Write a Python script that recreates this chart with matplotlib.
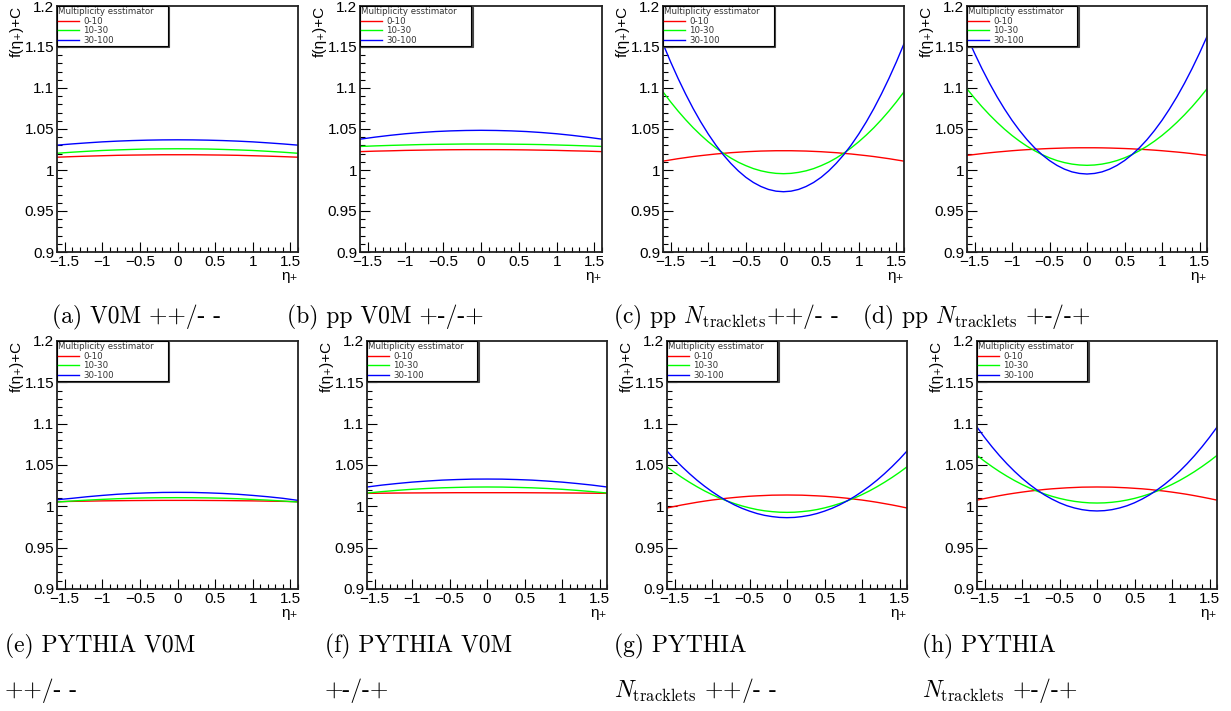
import matplotlib
matplotlib.use("Agg")
import matplotlib.pyplot as plt
from matplotlib.ticker import MultipleLocator, FuncFormatter

plt.rcParams["mathtext.fontset"] = "cm"
SANS = ["Liberation Sans", "DejaVu Sans"]

W, H = 1231, 711

# eta_+ sample points: every 0.2 for the flat panels, every 0.1 for the curved ones
ETA = [-1.6, -1.4, -1.2, -1.0, -0.8, -0.6, -0.4, -0.2, 0.0,
       0.2, 0.4, 0.6, 0.8, 1.0, 1.2, 1.4, 1.6]
ETA_FINE = [-1.6, -1.5, -1.4, -1.3, -1.2, -1.1, -1.0, -0.9, -0.8, -0.7, -0.6,
            -0.5, -0.4, -0.3, -0.2, -0.1, 0.0, 0.1, 0.2, 0.3, 0.4, 0.5, 0.6,
            0.7, 0.8, 0.9, 1.0, 1.1, 1.2, 1.3, 1.4, 1.5, 1.6]
CLASSES = ["0-10", "10-30", "30-100"]
COLORS = ["#ff0000", "#00ff00", "#0000ff"]

# f(eta_+)+C, one list per multiplicity class
a_0_10 = [1.0156, 1.0163, 1.0169, 1.0174, 1.0179, 1.0182, 1.0184, 1.0186, 1.0186,
          1.0186, 1.0184, 1.0182, 1.0179, 1.0174, 1.0169, 1.0163, 1.0156]
a_10_30 = [1.0204, 1.0217, 1.0228, 1.0238, 1.0245, 1.0251, 1.0256, 1.0258, 1.0259,
           1.0258, 1.0256, 1.0251, 1.0245, 1.0238, 1.0228, 1.0217, 1.0204]
a_30_100 = [1.0303, 1.0318, 1.0331, 1.0343, 1.0352, 1.0359, 1.0364, 1.0367, 1.0368,
            1.0367, 1.0364, 1.0359, 1.0352, 1.0343, 1.0331, 1.0318, 1.0303]

b_0_10 = [1.0224, 1.0230, 1.0234, 1.0239, 1.0242, 1.0245, 1.0247, 1.0248, 1.0248,
          1.0248, 1.0247, 1.0245, 1.0242, 1.0239, 1.0234, 1.0230, 1.0224]
b_10_30 = [1.0287, 1.0294, 1.0300, 1.0305, 1.0310, 1.0313, 1.0315, 1.0317, 1.0317,
           1.0317, 1.0315, 1.0313, 1.0310, 1.0305, 1.0300, 1.0294, 1.0287]
b_30_100 = [1.0376, 1.0401, 1.0423, 1.0442, 1.0457, 1.0469, 1.0477, 1.0482, 1.0484,
            1.0482, 1.0477, 1.0469, 1.0457, 1.0442, 1.0423, 1.0401, 1.0376]

c_0_10 = [1.0108, 1.0123, 1.0138, 1.0151, 1.0164, 1.0175, 1.0185, 1.0195, 1.0203,
          1.0211, 1.0217, 1.0223, 1.0227, 1.0231, 1.0233, 1.0235, 1.0235,
          1.0235, 1.0233, 1.0231, 1.0227, 1.0223, 1.0217, 1.0211, 1.0203,
          1.0195, 1.0185, 1.0175, 1.0164, 1.0151, 1.0138, 1.0123, 1.0108]
c_10_30 = [1.0953, 1.0832, 1.0719, 1.0614, 1.0516, 1.0427, 1.0345, 1.0271, 1.0205,
           1.0146, 1.0095, 1.0053, 1.0017, 0.9990, 0.9971, 0.9959, 0.9955,
           0.9959, 0.9971, 0.9990, 1.0017, 1.0053, 1.0095, 1.0146, 1.0205,
           1.0271, 1.0345, 1.0427, 1.0516, 1.0614, 1.0719, 1.0832, 1.0953]
c_30_100 = [1.1540, 1.1321, 1.1117, 1.0927, 1.0750, 1.0588, 1.0440, 1.0306, 1.0186,
            1.0081, 0.9989, 0.9911, 0.9848, 0.9799, 0.9763, 0.9742, 0.9735,
            0.9742, 0.9763, 0.9799, 0.9848, 0.9911, 0.9989, 1.0081, 1.0186,
            1.0306, 1.0440, 1.0588, 1.0750, 1.0927, 1.1117, 1.1321, 1.1540]

d_0_10 = [1.0178, 1.0189, 1.0200, 1.0210, 1.0219, 1.0227, 1.0235, 1.0242, 1.0248,
          1.0253, 1.0258, 1.0262, 1.0265, 1.0268, 1.0270, 1.0271, 1.0271,
          1.0271, 1.0270, 1.0268, 1.0265, 1.0262, 1.0258, 1.0253, 1.0248,
          1.0242, 1.0235, 1.0227, 1.0219, 1.0210, 1.0200, 1.0189, 1.0178]
d_10_30 = [1.0990, 1.0877, 1.0771, 1.0673, 1.0582, 1.0498, 1.0421, 1.0352, 1.0290,
           1.0236, 1.0188, 1.0148, 1.0115, 1.0090, 1.0072, 1.0061, 1.0057,
           1.0061, 1.0072, 1.0090, 1.0115, 1.0148, 1.0188, 1.0236, 1.0290,
           1.0352, 1.0421, 1.0498, 1.0582, 1.0673, 1.0771, 1.0877, 1.0990]
d_30_100 = [1.1628, 1.1425, 1.1235, 1.1058, 1.0894, 1.0744, 1.0606, 1.0482, 1.0370,
            1.0272, 1.0187, 1.0115, 1.0056, 1.0010, 0.9977, 0.9958, 0.9951,
            0.9958, 0.9977, 1.0010, 1.0056, 1.0115, 1.0187, 1.0272, 1.0370,
            1.0482, 1.0606, 1.0744, 1.0894, 1.1058, 1.1235, 1.1425, 1.1628]

e_0_10 = [1.0056, 1.0060, 1.0063, 1.0066, 1.0068, 1.0070, 1.0071, 1.0072, 1.0072,
          1.0072, 1.0071, 1.0070, 1.0068, 1.0066, 1.0063, 1.0060, 1.0056]
e_10_30 = [1.0052, 1.0064, 1.0075, 1.0084, 1.0092, 1.0098, 1.0102, 1.0104, 1.0105,
           1.0104, 1.0102, 1.0098, 1.0092, 1.0084, 1.0075, 1.0064, 1.0052]
e_30_100 = [1.0080, 1.0097, 1.0116, 1.0132, 1.0146, 1.0156, 1.0163, 1.0168, 1.0169,
            1.0168, 1.0163, 1.0156, 1.0146, 1.0132, 1.0116, 1.0097, 1.0072]

f_0_10 = [1.0157, 1.0159, 1.0161, 1.0162, 1.0163, 1.0164, 1.0165, 1.0165, 1.0165,
          1.0165, 1.0165, 1.0164, 1.0163, 1.0162, 1.0161, 1.0159, 1.0157]
f_10_30 = [1.0161, 1.0178, 1.0193, 1.0206, 1.0216, 1.0224, 1.0229, 1.0233, 1.0234,
           1.0233, 1.0229, 1.0224, 1.0216, 1.0206, 1.0193, 1.0178, 1.0161]
f_30_100 = [1.0234, 1.0257, 1.0276, 1.0293, 1.0306, 1.0317, 1.0324, 1.0329, 1.0330,
            1.0329, 1.0324, 1.0317, 1.0306, 1.0293, 1.0276, 1.0257, 1.0234]

g_0_10 = [0.9980, 0.9999, 1.0017, 1.0033, 1.0049, 1.0063, 1.0076, 1.0087, 1.0098,
          1.0107, 1.0115, 1.0122, 1.0127, 1.0131, 1.0135, 1.0136, 1.0137,
          1.0136, 1.0135, 1.0131, 1.0127, 1.0122, 1.0115, 1.0107, 1.0098,
          1.0087, 1.0076, 1.0063, 1.0049, 1.0033, 1.0017, 0.9999, 0.9980]
g_10_30 = [1.0478, 1.0411, 1.0349, 1.0291, 1.0237, 1.0187, 1.0142, 1.0101, 1.0065,
           1.0033, 1.0005, 0.9981, 0.9961, 0.9946, 0.9936, 0.9929, 0.9927,
           0.9929, 0.9936, 0.9946, 0.9961, 0.9981, 1.0005, 1.0033, 1.0065,
           1.0101, 1.0142, 1.0187, 1.0237, 1.0291, 1.0349, 1.0411, 1.0478]
g_30_100 = [1.0669, 1.0571, 1.0480, 1.0395, 1.0316, 1.0244, 1.0178, 1.0118, 1.0065,
            1.0017, 0.9976, 0.9942, 0.9913, 0.9891, 0.9876, 0.9866, 0.9863,
            0.9866, 0.9876, 0.9891, 0.9913, 0.9942, 0.9976, 1.0017, 1.0065,
            1.0118, 1.0178, 1.0244, 1.0316, 1.0395, 1.0480, 1.0571, 1.0669]

h_0_10 = [1.0075, 1.0094, 1.0112, 1.0129, 1.0145, 1.0159, 1.0172, 1.0184, 1.0194,
          1.0204, 1.0212, 1.0218, 1.0224, 1.0228, 1.0232, 1.0233, 1.0234,
          1.0233, 1.0232, 1.0228, 1.0224, 1.0218, 1.0212, 1.0204, 1.0194,
          1.0184, 1.0172, 1.0159, 1.0145, 1.0129, 1.0112, 1.0094, 1.0075]
h_10_30 = [1.0616, 1.0546, 1.0481, 1.0420, 1.0364, 1.0312, 1.0265, 1.0222, 1.0184,
           1.0150, 1.0121, 1.0096, 1.0076, 1.0060, 1.0049, 1.0042, 1.0040,
           1.0042, 1.0049, 1.0060, 1.0076, 1.0096, 1.0121, 1.0150, 1.0184,
           1.0222, 1.0265, 1.0312, 1.0364, 1.0420, 1.0481, 1.0546, 1.0616]
h_30_100 = [1.0958, 1.0835, 1.0720, 1.0613, 1.0514, 1.0423, 1.0340, 1.0265, 1.0198,
            1.0138, 1.0087, 1.0043, 1.0007, 0.9980, 0.9960, 0.9948, 0.9944,
            0.9948, 0.9960, 0.9980, 1.0007, 1.0043, 1.0087, 1.0138, 1.0198,
            1.0265, 1.0340, 1.0423, 1.0514, 1.0613, 1.0720, 1.0835, 1.0958]

CAPTIONS = [
    ["(a) V0M ++/- -"],
    ["(b) pp V0M +-/-+"],
    [r"(c) pp $N_{\mathrm{tracklets}}$++/- -"],
    [r"(d) pp $N_{\mathrm{tracklets}}$ +-/-+"],
    ["(e) PYTHIA V0M", "++/- -"],
    ["(f) PYTHIA V0M", "+-/-+"],
    ["(g) PYTHIA", r"$N_{\mathrm{tracklets}}$ ++/- -"],
    ["(h) PYTHIA", r"$N_{\mathrm{tracklets}}$ +-/-+"],
]
PANELS = [
    (ETA, a_0_10, a_10_30, a_30_100), (ETA, b_0_10, b_10_30, b_30_100),
    (ETA_FINE, c_0_10, c_10_30, c_30_100), (ETA_FINE, d_0_10, d_10_30, d_30_100),
    (ETA, e_0_10, e_10_30, e_30_100), (ETA, f_0_10, f_10_30, f_30_100),
    (ETA_FINE, g_0_10, g_10_30, g_30_100), (ETA_FINE, h_0_10, h_10_30, h_30_100),
]

# frame boxes in pixels: left, right, top, bottom
BOXES = [(57, 298, 6, 252), (360, 602, 6, 252), (663, 904, 6, 252), (967, 1207, 6, 252),
         (57, 298, 341, 589), (367, 607, 341, 589), (667, 907, 341, 589), (977, 1217, 341, 589)]
# caption anchors in pixels (left x, baseline y of first line)
CAP_POS = [(52, 323), (287, 323), (613, 323), (862, 323),
           (5, 652), (325, 652), (614, 652), (922, 652)]


def tick_fmt(v, pos):
    return ("%g" % v).replace("-", "\u2212")


def main():
    fig = plt.figure(figsize=(W / 100, H / 100), dpi=100)
    for k, ((xs, *curves), (l, r, t, b)) in enumerate(zip(PANELS, BOXES)):
        ax = fig.add_axes([l / W, 1 - b / H, (r - l) / W, (b - t) / H])
        for ys, lab, col in zip(curves, CLASSES, COLORS):
            ax.plot(xs, ys, color=col, lw=1.0, label=lab)
        ax.set_xlim(-1.6, 1.6)
        ax.set_ylim(0.9, 1.2)
        ax.xaxis.set_major_locator(MultipleLocator(0.5))
        ax.xaxis.set_minor_locator(MultipleLocator(0.1))
        ax.yaxis.set_major_locator(MultipleLocator(0.05))
        ax.yaxis.set_minor_locator(MultipleLocator(0.01))
        ax.xaxis.set_major_formatter(FuncFormatter(tick_fmt))
        ax.yaxis.set_major_formatter(FuncFormatter(tick_fmt))
        ax.tick_params(which="both", direction="in", top=False, right=False, width=0.8)
        ax.tick_params(which="major", length=7, labelsize=11, pad=2)
        ax.tick_params(which="minor", length=3.5)
        for lab in ax.get_xticklabels() + ax.get_yticklabels():
            lab.set_family(SANS)
        for sp in ax.spines.values():
            sp.set_linewidth(1.3)
            sp.set_color("#222222")
        ax.text(-40 / (r - l), 1.0, "f(η₊)+C", transform=ax.transAxes, rotation=90,
                ha="center", va="top", fontsize=11, family=SANS)
        ax.text(1.0, -24 / (b - t), "η₊", transform=ax.transAxes,
                ha="right", va="center", fontsize=11, family=SANS)
        leg = ax.legend(loc="upper left", bbox_to_anchor=(0, 0.86, 0.46, 0.14),
                        mode="expand", borderaxespad=0, fontsize=6.2,
                        title="Multiplicity esstimator", title_fontsize=6.2,
                        alignment="left", handlelength=2.4, handletextpad=0.5,
                        labelspacing=0.05, borderpad=0.15, fancybox=False,
                        edgecolor="black", framealpha=1,
                        shadow={"ox": 1.0, "oy": -1.0, "color": "#444444", "alpha": 1})
        leg.get_frame().set_linewidth(0.8)
        leg.get_title().set_color("#333333")
        for txt in leg.get_texts():
            txt.set_color("#333333")

        cx, cy = CAP_POS[k]
        for j, line in enumerate(CAPTIONS[k]):
            fig.text(cx / W, 1 - (cy + 45 * j) / H, line, family="cmr10",
                     fontsize=17, ha="left", va="baseline")

    fig.savefig("out.png", dpi=100)


if __name__ == "__main__":
    main()
